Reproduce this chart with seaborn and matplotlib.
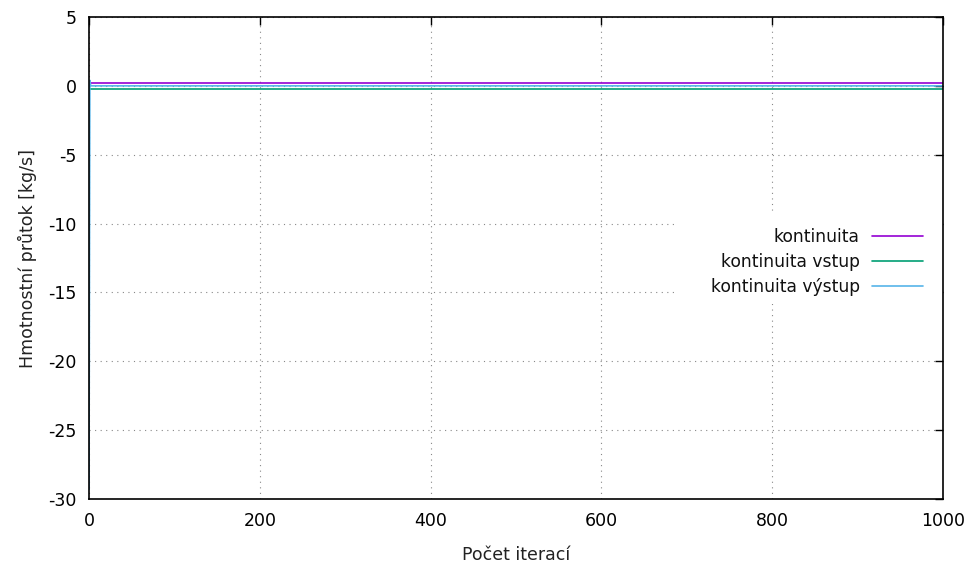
import matplotlib
matplotlib.use("Agg")
import matplotlib.pyplot as plt
from matplotlib.patches import Rectangle
import seaborn as sns
import pandas as pd

# Iteration history of mass-flow continuity
iterations = [0, 1, 2, 3, 1000]
kontinuita = [0.22, 0.22, 0.22, 0.22, 0.22]
kontinuita_vstup = [-0.22, -0.22, -0.22, -0.22, -0.22]
kontinuita_vystup = [-29.3, 0.4, 0.0, 0.0, 0.0]

series_names = ["kontinuita", "kontinuita vstup", "kontinuita výstup"]
series_colors = ["#9400d3", "#009e73", "#56b4e9"]

x_ticks = [0, 200, 400, 600, 800, 1000]
y_ticks = [-30, -25, -20, -15, -10, -5, 0, 5]

df = pd.concat([
    pd.DataFrame({"iter": iterations, "flow": vals, "series": name})
    for name, vals in zip(series_names, [kontinuita, kontinuita_vstup, kontinuita_vystup])
], ignore_index=True)

sns.set_style("white")
plt.rcParams["font.family"] = ["DejaVu Sans"]
plt.rcParams["axes.unicode_minus"] = False

fig = plt.figure(figsize=(9.7, 5.71), dpi=100)
ax = fig.add_axes([89 / 970, 72 / 571, 854 / 970, 482 / 571])

sns.lineplot(data=df, x="iter", y="flow", hue="series", hue_order=series_names,
             palette=series_colors, linewidth=1.2, ax=ax, estimator=None, sort=False,
             zorder=3)

ax.set_xlim(0, 1000)
ax.set_ylim(-30, 5)
ax.set_xticks(x_ticks)
ax.set_yticks(y_ticks)
ax.tick_params(direction="in", length=6, width=1, top=True, right=True,
               labelsize=12.5, pad=9, colors="black")
ax.set_axisbelow(True)
ax.grid(True, linestyle=(0, (1, 4)), color="#888888", linewidth=0.8)
for s in ax.spines.values():
    s.set_visible(True)
    s.set_color("black")
    s.set_linewidth(1.2)
    s.set_zorder(5)

ax.set_xlabel("Počet iterací", fontsize=12.5, labelpad=12, color="#222222")
ax.set_ylabel("Hmotnostní průtok [kg/s]", fontsize=12.5, labelpad=8, color="#222222")

# Opaque key area blanks the grid behind the legend
ax.add_patch(Rectangle((0.6885, 0.405), 0.3115, 0.184, transform=ax.transAxes,
                       facecolor="white", edgecolor="none", zorder=1))

leg = ax.legend(loc="upper right", bbox_to_anchor=(0.9766, 0.562), markerfirst=False,
                frameon=False, fontsize=12.3, handlelength=3.0, handletextpad=0.7,
                labelspacing=0.42, borderpad=0.0, borderaxespad=0.0, title=None)
for t in leg.get_texts():
    t.set_ha("right")
    t.set_color("#111111")
leg._legend_box.align = "right"
leg.set_zorder(4)

fig.savefig("out.png", dpi=100)
